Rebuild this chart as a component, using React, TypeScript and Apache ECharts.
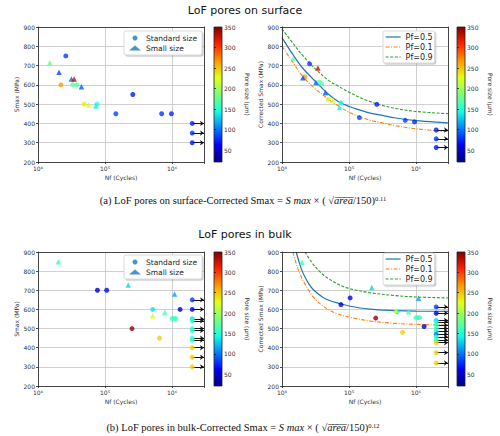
import React, { useEffect, useRef } from 'react';
import * as echarts from 'echarts';

type Pt = [number, number, number]; // [Nf cycles, Smax MPa, pore size µm]

// ---------- (a) LoF pores on surface ----------
const surfStdRaw: Pt[] = [
  [2.6e4, 750, 80], [2.2e4, 600, 265], [3.3e4, 600, 175], [3.8e4, 600, 170],
  [4.9e4, 500, 235], [7.6e4, 500, 145], [1.45e5, 450, 85], [2.6e5, 550, 70],
  [7.0e5, 450, 80], [9.8e5, 450, 75],
];
const surfRunRaw: Pt[] = [[2e6, 400, 70], [2e6, 350, 75], [2e6, 300, 70]];
const surfSmallRaw: Pt[] = [
  [1.5e4, 715, 175], [2.06e4, 665, 85], [3.15e4, 630, 95], [3.46e4, 630, 330],
  [4.45e4, 590, 90], [5.7e4, 495, 220], [7.3e4, 490, 140],
];
const surfStdCorr: Pt[] = [
  [2.58e4, 709, 80], [2.2e4, 641, 265], [3.6e4, 615, 175], [3.9e4, 605, 170],
  [4.9e4, 525, 235], [7.6e4, 506, 145], [1.43e5, 430, 85], [2.6e5, 499, 70],
  [6.9e5, 416, 80], [9.5e5, 408, 75],
];
const surfRunCorr: Pt[] = [[2e6, 366, 70], [2e6, 320, 75], [2e6, 275, 70]];
const surfSmallCorr: Pt[] = [
  [1.47e4, 735, 175], [2.05e4, 637, 85], [3.2e4, 612, 95], [3.44e4, 688, 330],
  [4.45e4, 560, 90], [5.75e4, 521, 220], [7.2e4, 483, 140],
];
const surfCurveN = [1e4, 1.5e4, 2e4, 3e4, 5e4, 7e4, 1e5, 1.5e5, 2e5, 3e5, 5e5, 1e6, 3e6];
const surfPf50 = [845, 750, 690, 625, 550, 512, 488, 468, 455, 443, 428, 415, 403];
const surfPf10 = [800, 710, 648, 585, 525, 490, 458, 432, 418, 404, 388, 372, 358];
const surfPf90 = [890, 810, 755, 690, 622, 592, 562, 532, 515, 495, 477, 462, 450];

// ---------- (b) LoF pores in bulk ----------
const bulkStdRaw: Pt[] = [
  [7.7e4, 700, 45], [1.06e5, 700, 60], [2.53e5, 500, 345], [5.15e5, 600, 135],
  [6.5e5, 450, 245], [1.0e6, 552, 160], [1.07e6, 552, 160], [1.14e6, 552, 160],
  [1.32e6, 600, 45],
];
const bulkRunRaw: Pt[] = [
  [2e6, 650, 80], [2e6, 600, 50], [2e6, 550, 130], [2e6, 540, 155], [2e6, 500, 160],
  [2e6, 490, 150], [2e6, 450, 160], [2e6, 440, 150], [2e6, 400, 245], [2e6, 350, 245],
  [2e6, 300, 245],
];
const bulkSmallRaw: Pt[] = [
  [2.02e4, 849, 155], [2.22e5, 728, 130], [5.15e5, 567, 220], [7.8e5, 585, 165],
  [1.09e6, 680, 115],
];
const bulkStdCorr: Pt[] = [
  [7.6e4, 625, 45], [1.04e5, 660, 60], [2.5e5, 555, 345], [5.2e5, 588, 135],
  [6.3e5, 480, 245], [1.0e6, 557, 160], [1.07e6, 557, 160], [1.14e6, 557, 160],
  [1.32e6, 511, 45],
];
const bulkRunCorr: Pt[] = [
  [2e6, 613, 80], [2e6, 580, 50], [2e6, 543, 130], [2e6, 535, 150], [2e6, 517, 160],
  [2e6, 500, 155], [2e6, 486, 150], [2e6, 470, 100], [2e6, 456, 160], [2e6, 440, 150],
  [2e6, 426, 245], [2e6, 374, 245], [2e6, 320, 245],
];
const bulkSmallCorr: Pt[] = [
  [1.99e4, 846, 155], [2.19e5, 715, 130], [5.0e5, 596, 220], [7.7e5, 588, 165],
  [1.09e6, 658, 115],
];
const bulkPf50N = [1.63e4, 2e4, 2.5e4, 3e4, 4e4, 5e4, 7e4, 1e5, 2e5, 5e5, 1e6, 3e6];
const bulkPf50 = [900, 800, 735, 700, 665, 648, 632, 618, 602, 594, 591, 590];
const bulkPf10N = [1.45e4, 1.7e4, 2e4, 2.5e4, 3e4, 4e4, 5e4, 7e4, 1e5, 2e5, 5e5, 1e6, 3e6];
const bulkPf10 = [900, 820, 760, 700, 660, 620, 598, 575, 560, 540, 527, 522, 518];
const bulkPf90N = [2.2e4, 3e4, 4e4, 5e4, 7e4, 1e5, 2e5, 5e5, 1e6, 3e6];
const bulkPf90 = [900, 830, 785, 760, 730, 710, 688, 672, 665, 660];

// ---------- axes ----------
const nfMin = 1e4;
const nfMax = 3e6;
const runoutEnd = 3e6;
const sMin = 200;
const sMax = 900;
const sStep = 100;
const poreMin = 21;
const poreMax = 350;
const poreTicks = [50, 100, 150, 200, 250, 300, 350];

const titles = ['LoF pores on surface', 'LoF pores in bulk'];
const yNames = ['Smax (MPa)', 'Corrected Smax (MPa)'];
const xName = 'Nf (Cycles)';
const cbName = 'Pore size (μm)';
const markerNames = ['Standard size', 'Small size'];
const curveNames = ['Pf=0.5', 'Pf=0.1', 'Pf=0.9'];

const jet = ['#000080', '#0000ff', '#0080ff', '#14ffe2', '#7bff7b', '#e2ff14', '#ff9700', '#ff2100', '#800000'];

const SANS = '"DejaVu Sans", sans-serif';
const SERIF = '"Liberation Serif", "DejaVu Serif", serif';

const SUP: Record<string, string> = { '0': '⁰', '1': '¹', '2': '²', '3': '³', '4': '⁴', '5': '⁵', '6': '⁶', '7': '⁷', '8': '⁸', '9': '⁹' };
const fmtPow = (v: number) => {
  const e = Math.round(Math.log10(v));
  if (Math.abs(v / Math.pow(10, e) - 1) > 1e-6) return '';
  return '10' + String(e).split('').map((d) => SUP[d]).join('');
};

// layout
const mainGrids = [
  { left: 38, top: 27, width: 166, height: 135 },
  { left: 282, top: 27, width: 166, height: 135 },
  { left: 38, top: 252, width: 166, height: 134 },
  { left: 282, top: 252, width: 166, height: 134 },
];
const barGrids = [
  { left: 214, top: 27, width: 8, height: 135 },
  { left: 457, top: 27, width: 8, height: 135 },
  { left: 214, top: 252, width: 8, height: 134 },
  { left: 457, top: 252, width: 8, height: 134 },
];

const panels = [
  { std: surfStdRaw, run: surfRunRaw, small: surfSmallRaw, corrected: false, curves: null as null | { n: number[]; s: number[] }[] },
  { std: surfStdCorr, run: surfRunCorr, small: surfSmallCorr, corrected: true, curves: [
    { n: surfCurveN, s: surfPf50 }, { n: surfCurveN, s: surfPf10 }, { n: surfCurveN, s: surfPf90 }] },
  { std: bulkStdRaw, run: bulkRunRaw, small: bulkSmallRaw, corrected: false, curves: null },
  { std: bulkStdCorr, run: bulkRunCorr, small: bulkSmallCorr, corrected: true, curves: [
    { n: bulkPf50N, s: bulkPf50 }, { n: bulkPf10N, s: bulkPf10 }, { n: bulkPf90N, s: bulkPf90 }] },
];

const curveStyles = [
  { color: '#1f77b4', width: 1.2, type: 'solid' as any },
  { color: '#ff7f0e', width: 1.1, type: [4, 1.5, 1, 1.5] as any },
  { color: '#2ca02c', width: 1.1, type: [3, 1.6] as any },
];

function buildOption(): any {
  const axisColor = '#222';
  const labelColor = '#333';
  const grid: any[] = [];
  const xAxis: any[] = [];
  const yAxis: any[] = [];
  const series: any[] = [];
  const scatterIdx: number[] = [];

  mainGrids.forEach((g, i) => {
    grid.push({ ...g, show: false });
    const common = { type: 'log', logBase: 10, gridIndex: i, min: nfMin, max: nfMax };
    xAxis.push({
      ...common, position: 'bottom', z: 3,
      axisLine: { show: true, onZero: false, lineStyle: { color: axisColor, width: 0.8 } },
      axisTick: { show: true, length: 2, lineStyle: { color: axisColor, width: 0.8 } },
      axisLabel: { fontSize: 6, color: labelColor, margin: 3, fontFamily: SANS, formatter: fmtPow },
      splitLine: { show: false },
      name: xName, nameLocation: 'middle', nameGap: 12,
      nameTextStyle: { fontSize: 6, color: labelColor, fontFamily: SANS },
    });
    xAxis.push({
      ...common, position: 'bottom', z: 0,
      axisLine: { show: false }, axisTick: { show: false }, axisLabel: { show: false },
      splitLine: { show: true, lineStyle: { color: '#c4c4c4', width: 0.8 } },
    });
    xAxis.push({
      ...common, position: 'top', z: 3,
      axisLine: { show: true, onZero: false, lineStyle: { color: axisColor, width: 0.8 } },
      axisTick: { show: false }, axisLabel: { show: false }, splitLine: { show: false },
    });
    const ycommon = { type: 'value', gridIndex: i, min: sMin, max: sMax, interval: sStep };
    yAxis.push({
      ...ycommon, position: 'left', z: 3,
      axisLine: { show: true, onZero: false, lineStyle: { color: axisColor, width: 0.8 } },
      axisTick: { show: true, length: 2, lineStyle: { color: axisColor, width: 0.8 } },
      axisLabel: { fontSize: 6, color: labelColor, margin: 3, fontFamily: SANS },
      splitLine: { show: false },
      name: yNames[panels[i].corrected ? 1 : 0], nameLocation: 'middle', nameGap: 18, nameRotate: 90,
      nameTextStyle: { fontSize: 6, color: labelColor, fontFamily: SANS },
    });
    yAxis.push({
      ...ycommon, position: 'left', z: 0,
      axisLine: { show: false }, axisTick: { show: false }, axisLabel: { show: false },
      splitLine: { show: true, lineStyle: { color: '#c4c4c4', width: 0.8 } },
    });
    yAxis.push({
      ...ycommon, position: 'right', z: 3,
      axisLine: { show: true, onZero: false, lineStyle: { color: axisColor, width: 0.8 } },
      axisTick: { show: false }, axisLabel: { show: false }, splitLine: { show: false },
    });
  });

  const gradient = {
    type: 'linear', x: 0, y: 1, x2: 0, y2: 0,
    colorStops: jet.map((c, k) => ({ offset: k / (jet.length - 1), color: c })),
  };
  barGrids.forEach((g, i) => {
    grid.push({ ...g, show: true, backgroundColor: gradient, borderColor: axisColor, borderWidth: 0.8 });
    xAxis.push({ type: 'value', gridIndex: 4 + i, min: 0, max: 1, show: false });
    yAxis.push({
      type: 'value', gridIndex: 4 + i, min: poreMin, max: poreMax, position: 'right',
      axisLine: { show: false },
      axisTick: { show: true, length: 2, customValues: poreTicks, lineStyle: { color: axisColor, width: 0.8 } },
      axisLabel: { show: true, customValues: poreTicks, fontSize: 6, color: labelColor, margin: 2, fontFamily: SANS },
      splitLine: { show: false },
      name: cbName, nameLocation: 'middle', nameRotate: -90, nameGap: 22,
      nameTextStyle: { fontSize: 6, color: labelColor, fontFamily: SANS },
    });
  });

  panels.forEach((p, i) => {
    const xi = 3 * i;
    const yi = 3 * i;
    if (p.curves) {
      p.curves.forEach((c, k) => {
        series.push({
          type: 'line', name: curveNames[k], xAxisIndex: xi, yAxisIndex: yi,
          data: c.n.map((n, j) => [n, c.s[j]]), smooth: 0.35, symbol: 'none', z: 2,
          lineStyle: curveStyles[k], itemStyle: { color: curveStyles[k].color },
        });
      });
    }
    series.push({
      type: 'lines', coordinateSystem: 'cartesian2d', xAxisIndex: xi, yAxisIndex: yi,
      data: p.run.map((r) => ({ coords: [[r[0], r[1]], [runoutEnd, r[1]]] })),
      symbol: ['none', 'arrow'], symbolSize: 4, z: 3, silent: true,
      lineStyle: { color: '#111', width: 1.1, opacity: 1 },
    });
    scatterIdx.push(series.length);
    series.push({
      type: 'scatter', name: markerNames[0], xAxisIndex: xi, yAxisIndex: yi,
      data: [...p.std, ...p.run], symbol: 'circle', symbolSize: 5, z: 4,
      itemStyle: { color: '#1f77b4' },
    });
    scatterIdx.push(series.length);
    series.push({
      type: 'scatter', name: markerNames[1], xAxisIndex: xi, yAxisIndex: yi,
      data: p.small, symbol: 'triangle', symbolSize: 5.5, z: 4,
      itemStyle: { color: '#1f77b4' },
    });
  });

  const legendBase = {
    orient: 'vertical', selectedMode: false, backgroundColor: '#fff',
    borderColor: '#cfcfcf', borderWidth: 0.8, borderRadius: 2,
    shadowColor: 'rgba(0,0,0,0.25)', shadowOffsetX: 1.2, shadowOffsetY: 1.2, shadowBlur: 0,
  };
  const markerLegend = {
    ...legendBase, data: markerNames, padding: [3, 5, 3, 5], itemWidth: 12, itemHeight: 5, itemGap: 2,
    textStyle: { fontSize: 7.5, color: '#222', fontFamily: SANS },
  };
  const curveLegend = {
    ...legendBase, data: curveNames, padding: [2, 2, 2, 2], itemWidth: 15, itemHeight: 6, itemGap: 2,
    itemStyle: { opacity: 0 },
    lineStyle: { width: 1.2 },
    textStyle: { fontSize: 8, color: '#222', fontFamily: SANS, width: 40, align: 'right' },
  };
  const legend = [
    { ...markerLegend, left: 124, top: 31 },
    { ...markerLegend, left: 124, top: 255 },
    { ...curveLegend, left: 383, top: 31 },
    { ...curveLegend, left: 383, top: 253 },
  ];

  const over = 'a\u0305r\u0305e\u0305a\u0305';
  const rich = {
    it: { fontStyle: 'italic', fontFamily: SERIF, fontSize: 10.5, fill: '#111' },
    sup: { fontFamily: SERIF, fontSize: 6.5, verticalAlign: 'top', fill: '#111' },
  };
  const caption = (tag: string, exp: string, y: number) => ({
    type: 'text', x: 243, y,
    style: {
      text: `${tag}-Corrected Smax = {it|S max} × ( √{it|${over}}/150){sup|${exp}}`,
      rich, fontFamily: SERIF, fontSize: 10.5, fill: '#111', align: 'center', verticalAlign: 'middle',
    },
  });
  const graphic = [
    { type: 'text', x: 245, y: 10, style: { text: titles[0], fontFamily: SANS, fontSize: 11, fill: '#111', align: 'center', verticalAlign: 'middle' } },
    { type: 'text', x: 245, y: 234, style: { text: titles[1], fontFamily: SANS, fontSize: 11, fill: '#111', align: 'center', verticalAlign: 'middle' } },
    caption('(a) LoF pores on surface', '0.11', 200),
    caption('(b) LoF pores in bulk', '0.12', 427),
  ];

  return {
    animation: false,
    backgroundColor: '#fff',
    textStyle: { fontFamily: SANS },
    grid, xAxis, yAxis, series, legend, graphic,
    visualMap: [{
      type: 'continuous', show: false, min: poreMin, max: poreMax, dimension: 2,
      seriesIndex: scatterIdx, inRange: { color: jet },
    }],
  };
}

export default function App() {
  const ref = useRef<HTMLDivElement>(null);
  useEffect(() => {
    document.body.style.margin = '0';
    if (!ref.current) return;
    const chart = echarts.init(ref.current, undefined, { renderer: 'svg' });
    chart.setOption(buildOption());
    return () => chart.dispose();
  }, []);
  return <div ref={ref} style={{ width: 500, height: 436 }} />;
}
